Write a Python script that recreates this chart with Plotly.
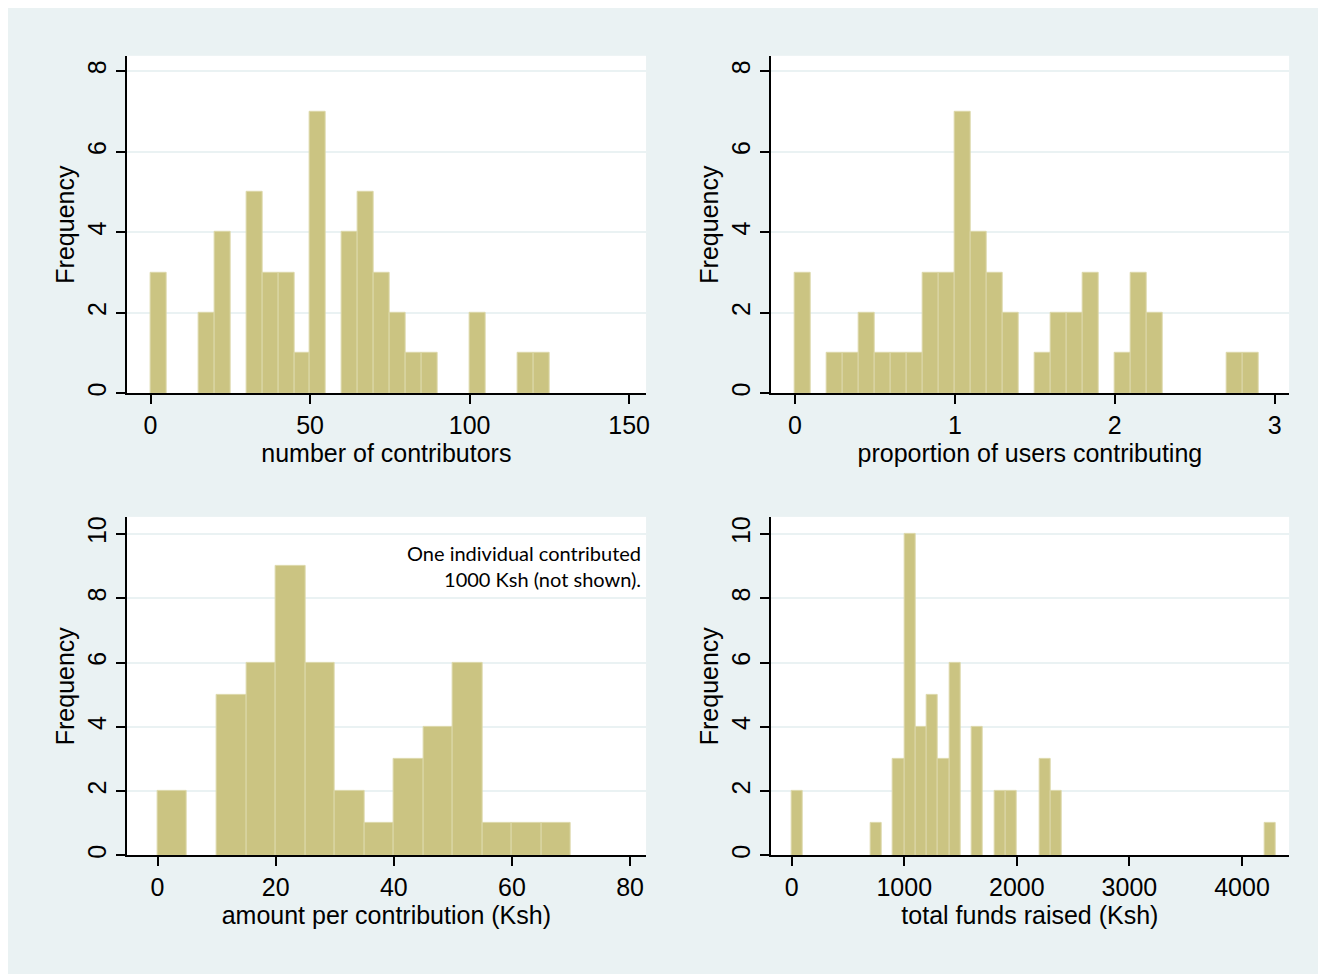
import plotly.graph_objects as go

# ---------------- data ----------------
# Panel 1: number of contributors (bin width 5)
contrib_bins = [0, 5, 10, 15, 20, 25, 30, 35, 40, 45, 50, 55, 60, 65, 70, 75, 80, 85, 90, 95, 100, 105, 110, 115, 120]
contrib_freq = [3, 0, 0, 2, 4, 0, 5, 3, 3, 1, 7, 0, 4, 5, 3, 2, 1, 1, 0, 0, 2, 0, 0, 1, 1]
contrib_width = 5

# Panel 2: proportion of users contributing (bin width 0.1)
prop_bins = [0.0, 0.2, 0.3, 0.4, 0.5, 0.6, 0.7, 0.8, 0.9, 1.0, 1.1, 1.2, 1.3, 1.5, 1.6, 1.7, 1.8, 2.0, 2.1, 2.2, 2.7, 2.8]
prop_freq = [3, 1, 1, 2, 1, 1, 1, 3, 3, 7, 4, 3, 2, 1, 2, 2, 3, 1, 3, 2, 1, 1]
prop_width = 0.1

# Panel 3: amount per contribution (Ksh) (bin width 5)
amount_bins = [0, 5, 10, 15, 20, 25, 30, 35, 40, 45, 50, 55, 60, 65]
amount_freq = [2, 0, 5, 6, 9, 6, 2, 1, 3, 4, 6, 1, 1, 1]
amount_width = 5

# Panel 4: total funds raised (Ksh) (bin width 100)
funds_bins = [0, 700, 900, 1000, 1100, 1200, 1300, 1400, 1600, 1800, 1900, 2200, 2300, 4200]
funds_freq = [2, 1, 3, 10, 4, 5, 3, 6, 4, 2, 2, 3, 2, 1]
funds_width = 100

x_titles = ["number of contributors", "proportion of users contributing",
            "amount per contribution (Ksh)", "total funds raised (Ksh)"]
x_ticks = [[0, 50, 100, 150], [0, 1, 2, 3], [0, 20, 40, 60, 80], [0, 1000, 2000, 3000, 4000]]
y_ticks_top = [0, 2, 4, 6, 8]
y_ticks_bottom = [0, 2, 4, 6, 8, 10]
note_text = "One individual contributed<br>1000 Ksh (not shown)."

# ---------------- styling ----------------
OFF = 8                      # page body margin of the browser
W, H = 1326 - OFF, 974 - OFF
BAR_FILL = "#CBC482"
BAR_LINE = "#DCD8A9"
BG = "#EAF2F3"
GRID = "#EAF2F3"
FONT = "Liberation Sans, Arial, sans-serif"
FS = 25

def fx(px):
    return (px - OFF) / W

def fy(py):
    return 1 - (py - OFF) / H

panels = [
    dict(bins=contrib_bins, freq=contrib_freq, w=contrib_width,
         xdom=[fx(127), fx(648)], ydom=[fy(394), fy(55)],
         xr=[-7.5, 155.3], yr=[0, 8.38], yt=y_ticks_top),
    dict(bins=prop_bins, freq=prop_freq, w=prop_width,
         xdom=[fx(773), fx(1293)], ydom=[fy(394), fy(55)],
         xr=[-0.152, 3.09], yr=[0, 8.38], yt=y_ticks_top),
    dict(bins=amount_bins, freq=amount_freq, w=amount_width,
         xdom=[fx(127), fx(648)], ydom=[fy(858), fy(518)],
         xr=[-5.23, 82.7], yr=[0, 10.53], yt=y_ticks_bottom),
    dict(bins=funds_bins, freq=funds_freq, w=funds_width,
         xdom=[fx(773), fx(1293)], ydom=[fy(858), fy(518)],
         xr=[-186, 4418], yr=[0, 10.53], yt=y_ticks_bottom),
]

fig = go.Figure()
layout = {}
for i, p in enumerate(panels):
    n = "" if i == 0 else str(i + 1)
    xs = [b for b, f in zip(p["bins"], p["freq"]) if f > 0]
    ys = [f for f in p["freq"] if f > 0]
    fig.add_trace(go.Bar(
        x=xs, y=ys, width=p["w"], offset=0,
        marker=dict(color=BAR_FILL, line=dict(color=BAR_LINE, width=1)),
        xaxis="x" + n, yaxis="y" + n, showlegend=False, hoverinfo="x+y",
    ))
    layout["xaxis" + n] = dict(
        domain=p["xdom"], range=p["xr"], anchor="y" + n,
        tickvals=x_ticks[i], ticktext=[str(v) for v in x_ticks[i]],
        showline=True, linecolor="black", linewidth=1.5,
        ticks="outside", ticklen=9, tickwidth=1.5, tickcolor="black",
        showgrid=False, zeroline=False,
        tickfont=dict(family=FONT, size=FS, color="black"),
        title=dict(text=x_titles[i], font=dict(family=FONT, size=FS, color="black"), standoff=0),
        fixedrange=True,
    )
    layout["yaxis" + n] = dict(
        domain=p["ydom"], range=p["yr"], anchor="x" + n,
        tickvals=p["yt"], ticktext=[str(v) for v in p["yt"]], tickangle=-90,
        showline=True, linecolor="black", linewidth=1.5,
        ticks="outside", ticklen=9, tickwidth=1.5, tickcolor="black",
        showgrid=True, gridcolor=GRID, gridwidth=1.5, zeroline=False,
        tickfont=dict(family=FONT, size=FS, color="black"),
        title=dict(text="Frequency", font=dict(family=FONT, size=FS, color="black"), standoff=1),
        fixedrange=True,
    )

fig.update_layout(
    width=W, height=H,
    margin=dict(l=0, r=0, t=0, b=0),
    paper_bgcolor=BG, plot_bgcolor="white",
    bargap=0,
    **layout,
)

fig.add_annotation(
    xref="x3 domain", yref="y3 domain", x=(645 - 127) / (648 - 127), y=(858 - 540) / (858 - 518),
    xanchor="right", yanchor="top", align="right", showarrow=False,
    text=note_text, font=dict(family="Lato, Open Sans, sans-serif", size=20, color="black"),
)

fig.write_html("out.html")
